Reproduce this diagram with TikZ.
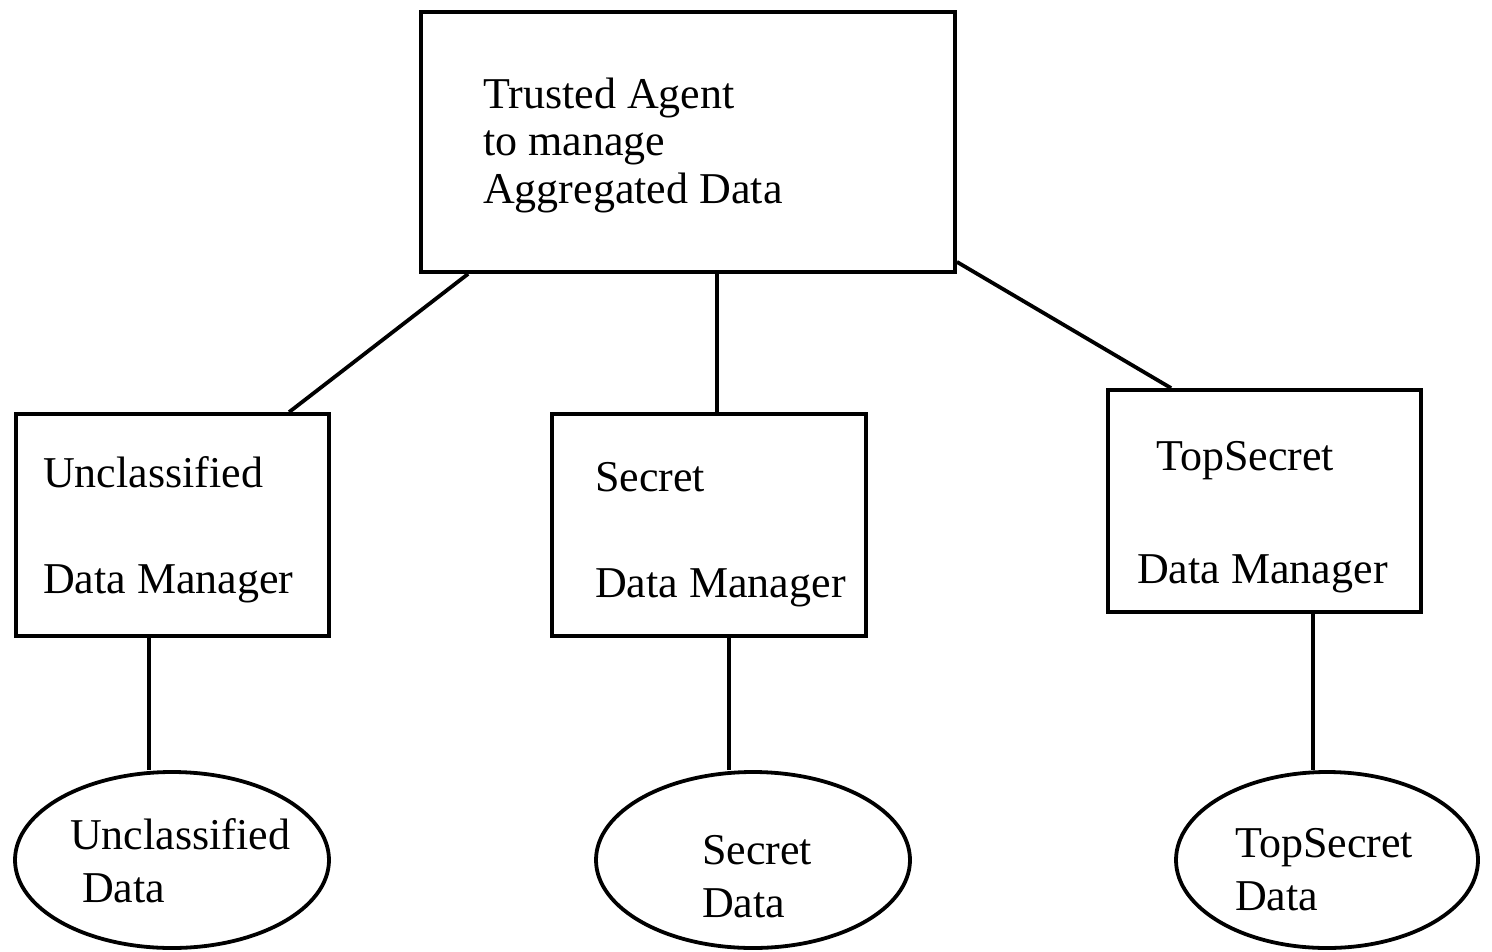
\documentclass[tikz,border=0pt]{standalone}
\usepackage{fontspec}
\setmainfont{Liberation Serif}
\usetikzlibrary{shapes.geometric,calc}
\begin{document}
\begin{tikzpicture}[x=1pt,y=-1pt,
  box/.style={draw,line width=3.8pt,rectangle,inner sep=0pt},
  oval/.style={draw,line width=3.8pt,ellipse,inner sep=0pt},
  lbl/.style={anchor=base west,inner sep=0pt,font=\fontsize{44}{48}\selectfont},
  conn/.style={line width=3.8pt}]
\useasboundingbox (0,0) rectangle (1492,951);
% boxes
\node[box,minimum width=534pt,minimum height=260pt] (top) at (688,142) {};
\node[box,minimum width=313pt,minimum height=222pt] (ucdm) at (172.5,525) {};
\node[box,minimum width=314pt,minimum height=222pt] (sdm) at (709,525) {};
\node[box,minimum width=313pt,minimum height=222pt] (tsdm) at (1264.5,501) {};
% ellipses
\node[oval,minimum width=314pt,minimum height=176pt] (ucd) at (172,860) {};
\node[oval,minimum width=314pt,minimum height=176pt] (sd) at (753,860) {};
\node[oval,minimum width=302pt,minimum height=176pt] (tsd) at (1327,860) {};
% texts
\node[lbl] (t1) at (483,108) {Trusted Agent};
\node[lbl] (t2) at (483,155) {to manage};
\node[lbl] (t3) at (483,203) {Aggregated Data};
\node[lbl] (u1) at (43,487) {Unclassified};
\node[lbl] (u2) at (43,593) {Data Manager};
\node[lbl] (s1) at (595,491) {Secret};
\node[lbl] (s2) at (595,597) {Data Manager};
\node[lbl] (ts1) at (1156,470) {TopSecret};
\node[lbl] (ts2) at (1137,583) {Data Manager};
\node[lbl] (ud1) at (70,849) {Unclassified};
\node[lbl] (ud2) at (82,902) {Data};
\node[lbl] (sd1) at (702,864) {Secret};
\node[lbl] (sd2) at (702,917) {Data};
\node[lbl] (tsd1) at (1235,857) {TopSecret};
\node[lbl] (tsd2) at (1235,910) {Data};
% connector end points
\coordinate (a1) at ($(ucdm.south west)+(135,0)$);
\coordinate (a2) at ($(sdm.south west)+(179,0)$);
\coordinate (a3) at ($(tsdm.south west)+(207,0)$);
% connectors
\draw[conn] ($(top.south west)+(49,0)$) -- ($(ucdm.north west)+(275,0)$);
\draw[conn] ($(top.south west)+(298,0)$) -- ($(sdm.north west)+(167,0)$);
\draw[conn] ($(top.south east)+(0,-12)$) -- ($(tsdm.north west)+(65,0)$);
\draw[conn] (a1) -- (a1 |- ucd.north);
\draw[conn] (a2) -- (a2 |- sd.north);
\draw[conn] (a3) -- (a3 |- tsd.north);
\end{tikzpicture}
\end{document}
